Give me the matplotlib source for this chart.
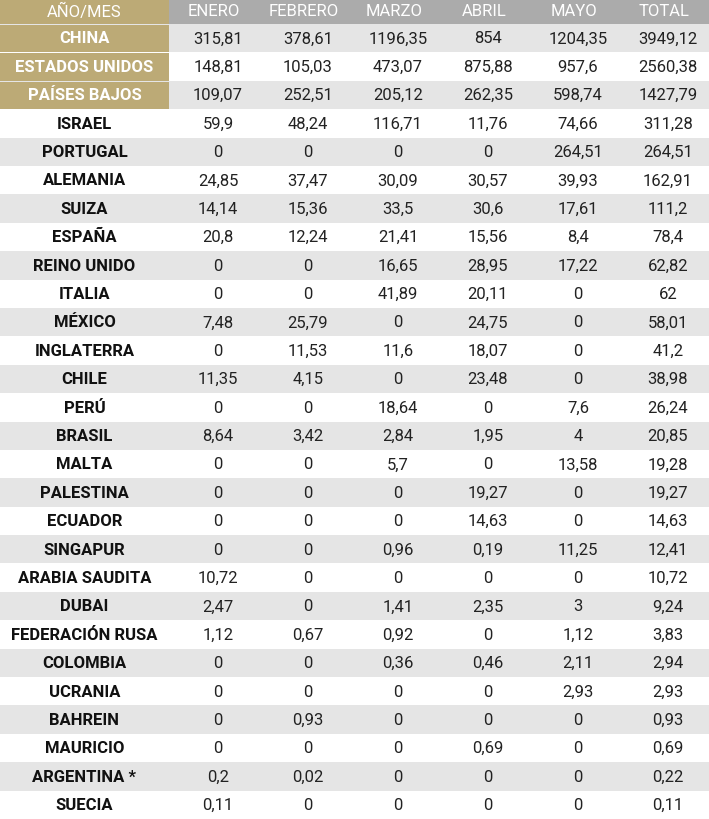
import matplotlib
matplotlib.use("Agg")
import matplotlib.pyplot as plt
from matplotlib.patches import Rectangle

countries = ["CHINA", "ESTADOS UNIDOS", "PAÍSES BAJOS", "ISRAEL", "PORTUGAL", "ALEMANIA",
             "SUIZA", "ESPAÑA", "REINO UNIDO", "ITALIA", "MÉXICO", "INGLATERRA", "CHILE",
             "PERÚ", "BRASIL", "MALTA", "PALESTINA", "ECUADOR", "SINGAPUR", "ARABIA SAUDITA",
             "DUBAI", "FEDERACIÓN RUSA", "COLOMBIA", "UCRANIA", "BAHREIN", "MAURICIO",
             "ARGENTINA *", "SUECIA"]
months = ["ENERO", "FEBRERO", "MARZO", "ABRIL", "MAYO", "TOTAL"]
enero = ["315,81", "148,81", "109,07", "59,9", "0", "24,85", "14,14", "20,8", "0", "0", "7,48",
         "0", "11,35", "0", "8,64", "0", "0", "0", "0", "10,72", "2,47", "1,12", "0", "0", "0",
         "0", "0,2", "0,11"]
febrero = ["378,61", "105,03", "252,51", "48,24", "0", "37,47", "15,36", "12,24", "0", "0",
           "25,79", "11,53", "4,15", "0", "3,42", "0", "0", "0", "0", "0", "0", "0,67", "0",
           "0", "0,93", "0", "0,02", "0"]
marzo = ["1196,35", "473,07", "205,12", "116,71", "0", "30,09", "33,5", "21,41", "16,65",
         "41,89", "0", "11,6", "0", "18,64", "2,84", "5,7", "0", "0", "0,96", "0", "1,41",
         "0,92", "0,36", "0", "0", "0", "0", "0"]
abril = ["854", "875,88", "262,35", "11,76", "0", "30,57", "30,6", "15,56", "28,95", "20,11",
         "24,75", "18,07", "23,48", "0", "1,95", "0", "19,27", "14,63", "0,19", "0", "2,35",
         "0", "0,46", "0", "0", "0,69", "0", "0"]
mayo = ["1204,35", "957,6", "598,74", "74,66", "264,51", "39,93", "17,61", "8,4", "17,22", "0",
        "0", "0", "0", "7,6", "4", "13,58", "0", "0", "11,25", "0", "3", "1,12", "2,11",
        "2,93", "0", "0", "0", "0"]
total = ["3949,12", "2560,38", "1427,79", "311,28", "264,51", "162,91", "111,2", "78,4",
         "62,82", "62", "58,01", "41,2", "38,98", "26,24", "20,85", "19,28", "19,27", "14,63",
         "12,41", "10,72", "9,24", "3,83", "2,94", "2,93", "0,93", "0,69", "0,22", "0,11"]
columns = [enero, febrero, marzo, abril, mayo, total]
corner = "AÑO/MES"
highlighted = 3

plt.rcParams['font.family'] = ['Roboto', 'DejaVu Sans']

W, H = 709, 819
fig = plt.figure(figsize=(W / 100, H / 100), dpi=100)
ax = fig.add_axes([0, 0, 1, 1])
ax.set_xlim(0, W)
ax.set_ylim(H, 0)
ax.axis('off')

GOLD = "#BCAA76"
HEAD = "#ABABAB"
LIGHT = "#E5E5E5"
first_w = 169
col_w = (W - first_w) / len(months)
head_h = 24
n = len(countries)
row_h = (H - head_h) / n
fs = 12

# header
ax.add_patch(Rectangle((0, 0), first_w, head_h, color=GOLD, lw=0))
ax.add_patch(Rectangle((first_w, 0), W - first_w, head_h, color=HEAD, lw=0))
ax.text(first_w / 2, head_h / 2, corner, color="white", fontsize=fs, ha="center", va="center")
for j, m in enumerate(months):
    ax.text(first_w + col_w * (j + 0.5), head_h / 2, m, color="white", fontsize=fs,
            ha="center", va="center")

for i, c in enumerate(countries):
    y0 = head_h + i * row_h
    yc = y0 + row_h / 2 + 0.8
    if i % 2 == 0:
        ax.add_patch(Rectangle((0, y0), W, row_h, color=LIGHT, lw=0))
    if i < highlighted:
        ax.add_patch(Rectangle((0, y0 + 1), first_w, row_h - 1, color=GOLD, lw=0))
        ax.text(first_w / 2, yc, c, color="white", fontsize=fs, fontweight="bold",
                ha="center", va="center")
    else:
        ax.text(first_w / 2, yc, c, color="#111111", fontsize=fs, fontweight="bold",
                ha="center", va="center")
    for j, col in enumerate(columns):
        ax.text(first_w + col_w * (j + 0.5) + 4, yc, col[i], color="#222222", fontsize=fs,
                ha="center", va="center")

fig.savefig("out.png", dpi=100)
